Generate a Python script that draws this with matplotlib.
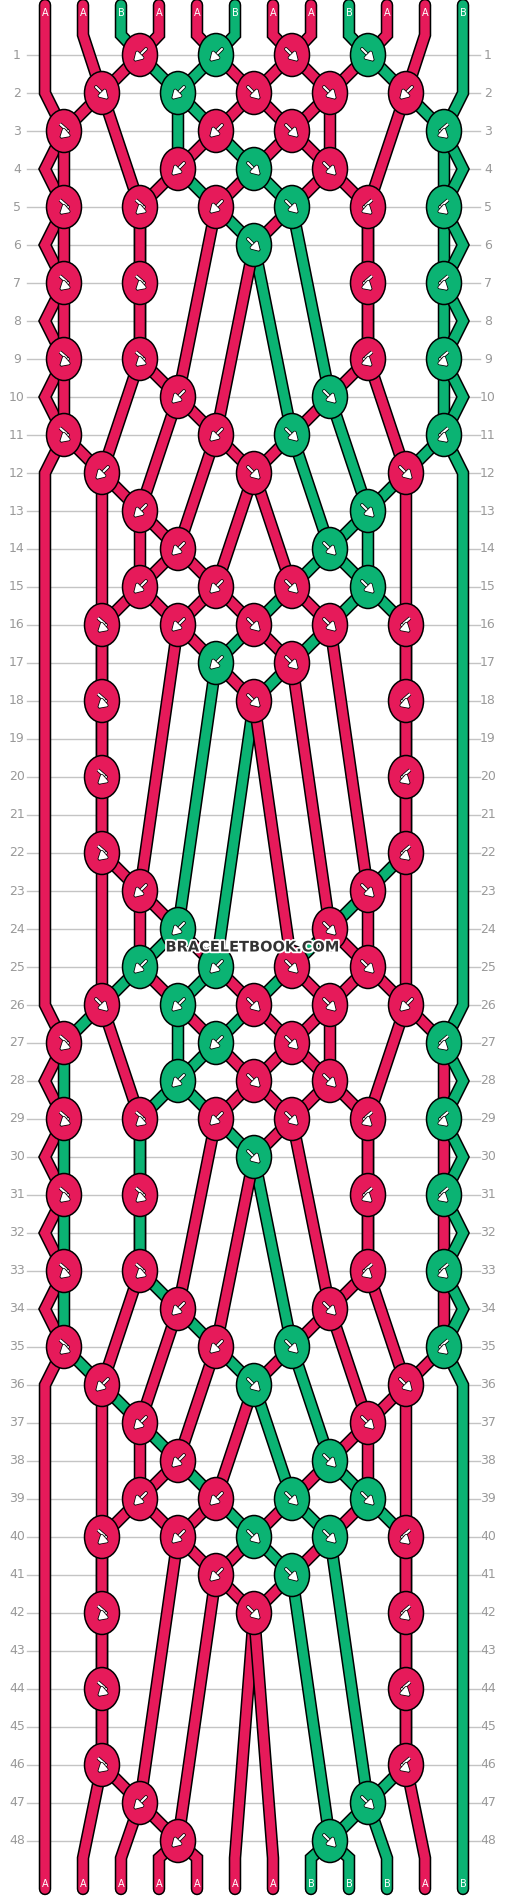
import matplotlib
matplotlib.use("Agg")
import matplotlib.pyplot as plt
from matplotlib.patches import Ellipse
import matplotlib.patheffects as pe

# string colours at the top, left to right
START = ["A", "A", "B", "A", "A", "B", "A", "A", "B", "A", "A", "B"]
COLORS = {"A": "#E61A5A", "B": "#0BB373"}

# knots per row: odd rows 6 slots (pairs 0-1, 2-3 ...), even rows 5 slots (pairs 1-2, 3-4 ...)
# F forward, B backward, f forward-backward, b backward-forward, . none
ROWS = [
    ".BBFF.", "FBFFB", "f.BF.b", ".BFF.", "ffBFbb", "..F..", "ff..bb", ".....",
    "ff..bb", ".B.F.", "f.BF.b", "B.F.F", ".B..F.", ".B.F.", ".BBFF.", "fBFFb",
    "..BF..", "f.F.b", "......", "f...b", "......", "f...b", ".B..F.", ".B.F.",
    ".BBFF.", "FBFFB", "f.BF.b", ".BFF.", "ffBFbb", "..F..", "ff..bb", ".....",
    "ff..bb", ".B.F.", "f.BF.b", "B.F.F", ".B..F.", ".B.F.", ".BBFF.", "fBFFb",
    "..BF..", "f.F.b", "......", "f...b", "......", "f...b", ".B..F.", ".B.F.",
]

X0, DX = 45, 38
Y1, DY = 55, 38
N = len(START)


def sx(i):
    return X0 + DX * i


def ry(r):
    return Y1 + DY * (r - 1)


fig = plt.figure(figsize=(5.06, 18.96), dpi=100)
ax = fig.add_axes([0, 0, 1, 1])
ax.set_xlim(0, 506)
ax.set_ylim(1896, 0)
ax.axis("off")

for r in range(1, len(ROWS) + 1):
    ax.plot([27, 480], [ry(r), ry(r)], color="#c4c4c4", lw=1.0, zorder=0)
    ax.text(17, ry(r), str(r), ha="center", va="center", fontsize=9, color="#999999")
    ax.text(488, ry(r), str(r), ha="center", va="center", fontsize=9, color="#999999")

# simulate strands
order = list(range(N))           # order[pos] = strand id
paths = {s: [(sx(s), 5), (sx(s), 35)] for s in range(N)}
knots = []
for r, row in enumerate(ROWS, start=1):
    off = 0 if r % 2 == 1 else 1
    for k, t in enumerate(row):
        if t == ".":
            continue
        p = off + 2 * k
        cx = (sx(p) + sx(p + 1)) / 2
        cy = ry(r)
        left, right = order[p], order[p + 1]
        paths[left].append((cx, cy))
        paths[right].append((cx, cy))
        col = START[left] if t in "Ff" else START[right]
        knots.append((cx, cy, t, col))
        if t in "FB":
            order[p], order[p + 1] = right, left
    if r % 2 == 0:
        for p in (0, N - 1):
            paths[order[p]].append((sx(p), ry(r)))

y_end = ry(len(ROWS)) + 17
for p, s in enumerate(order):
    paths[s].append((sx(p), y_end))
    paths[s].append((sx(p), 1889))

for s in range(N):
    xs = [q[0] for q in paths[s]]
    ys = [q[1] for q in paths[s]]
    ax.plot(xs, ys, color="black", lw=9.0, solid_capstyle="round",
            solid_joinstyle="miter", zorder=2 + s * 0.01)
    ax.plot(xs, ys, color=COLORS[START[s]], lw=6.8, solid_capstyle="round",
            solid_joinstyle="miter", zorder=2 + s * 0.01 + 0.005)

for i in range(N):
    ax.text(sx(i), 13, START[i], ha="center", va="center", fontsize=7, color="white", zorder=5)
for p, s in enumerate(order):
    ax.text(sx(p), 1884, START[s], ha="center", va="center", fontsize=7, color="white", zorder=5)

stroke = [pe.withStroke(linewidth=2.6, foreground="black")]
SYMBOLS = {
    "F": [(-6, -6), (6, 6)],
    "B": [(6, -6), (-6, 6)],
    "f": [(-4, -7), (4, 0), (-4, 7)],
    "b": [(4, -7), (-4, 0), (4, 7)],
}
for cx, cy, t, col in knots:
    ax.add_patch(Ellipse((cx, cy), 35, 43, facecolor=COLORS[col], edgecolor="black",
                         lw=1.1, zorder=4))
    pts = SYMBOLS[t]
    if len(pts) == 3:
        ax.plot([cx + pts[0][0], cx + pts[1][0]], [cy + pts[0][1], cy + pts[1][1]],
                color="white", lw=1.5, zorder=6, path_effects=stroke, solid_capstyle="butt")
        a, b = pts[1], pts[2]
    else:
        a, b = pts
    ax.annotate("", xy=(cx + b[0], cy + b[1]), xytext=(cx + a[0], cy + a[1]),
                arrowprops=dict(arrowstyle="-|>,head_length=0.5,head_width=0.3",
                                mutation_scale=9, color="white", lw=1.5,
                                path_effects=stroke, shrinkA=0, shrinkB=0),
                zorder=6)

ax.text(253, 947, "BRACELETBOOK.COM", ha="center", va="center", fontsize=10.5,
        fontweight="bold", color="#333333", zorder=8,
        path_effects=[pe.withStroke(linewidth=2.5, foreground="white")])

fig.savefig("out.png", dpi=100)
